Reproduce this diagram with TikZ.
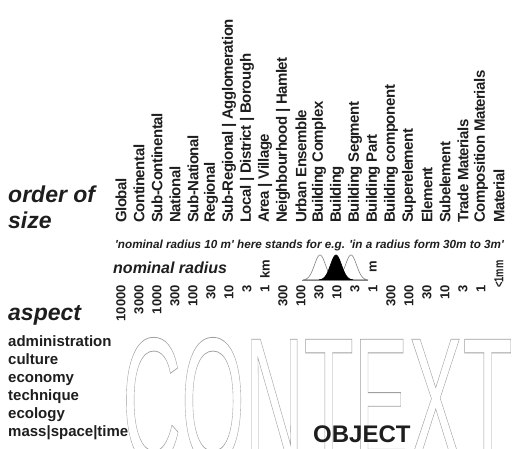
\documentclass[tikz,border=0pt]{standalone}
\usepackage{fontspec}
\setmainfont{Liberation Sans}
\newfontfamily\labfont[LetterSpace=-3]{Liberation Sans}
\newcommand\fsz[1]{\fontsize{#1}{#1}\selectfont}
\definecolor{ink}{HTML}{1E1E1E}
\definecolor{outl}{HTML}{A0A0A0}
\tikzset{
  collab/.style={rotate=90, anchor=west, inner sep=0pt, text=ink, font=\labfont\fsz{15}\bfseries},
  numlab/.style={rotate=90, anchor=east, inner sep=0pt, text=ink, font=\fsz{13}\bfseries},
  unitlab/.style={rotate=90, anchor=west, inner sep=0pt, text=ink, font=\fsz{13}\bfseries},
  bigital/.style={anchor=base west, inner sep=0pt, text=ink, font=\fsz{23}\bfseries\itshape},
  aspectlab/.style={anchor=base west, inner sep=0pt, text=ink, font=\fsz{15}\bfseries},
  bellwhite/.style={draw=gray, line width=0.6pt, fill=white},
  bellblack/.style={draw=black, fill=black, line width=0.6pt},
}
\begin{document}
\begin{tikzpicture}[x=1pt,y=-1pt]
\useasboundingbox (0,0) rectangle (513,448);
\clip (0,0) rectangle (513,448);
% CONTEXT outline letters
\node[anchor=base west, inner sep=0pt, text=outl] (ctx) at (122,463)
  {\special{pdf:literal direct 1 Tr 0.8 w}\scalebox{0.454}[1]{\fsz{180}CONTEXT}\special{pdf:literal direct 0 Tr}};
% column labels
\foreach \t [count=\i from 0] in {Global,Continental,Sub-Continental,National,Sub-National,Regional,Sub-Regional | Agglomeration,Local | District | Borough,Area | Village,Neighbourhood | Hamlet,Urban Ensemble,Building Complex,Building,Building Segment,Building Part,Building component,Superelement,Element,Subelement,Trade Materials,Composition Materials,Material}
  \node[collab] (l\i) at ({121+18*\i},223) {\t};
% numbers
\foreach \t [count=\i from 0] in {10000,3000,1000,300,100,30,10,3,1,300,100,30,10,3,1,300,100,30,10,3,1}
  \node[numlab] (n\i) at ({121+18*\i},285) {\t};
\node[unitlab] (n21) at (499,288) {\scalebox{0.72}[1]{<1mm}};
\node[unitlab] (km) at (265,279) {km};
\node[unitlab] (m) at (373,273) {m};
% explanatory line
\node[anchor=base west, inner sep=0pt, text=ink, font=\fsz{11.7}\bfseries\itshape] (expl) at (115,248)
  {\textquotesingle nominal radius 10 m\textquotesingle{} here stands for e.g. \textquotesingle in a radius form 30m to 3m\textquotesingle};
\node[anchor=base west, inner sep=0pt, text=ink, font=\fsz{16}\bfseries\itshape] (nomr) at (113,273.3) {nominal radius};
% bells
\draw[bellwhite] plot[domain=-17:17, samples=60, smooth] ({320+\x},{280-25*exp(-(\x*\x)/(2*5.5*5.5))}) -- cycle;
\draw[bellwhite] plot[domain=-17:17, samples=60, smooth] ({351+\x},{280-25*exp(-(\x*\x)/(2*5.5*5.5))}) -- cycle;
\draw[bellblack] plot[domain=-17:17, samples=60, smooth] ({336+\x},{280-25*exp(-(\x*\x)/(2*5.5*5.5))}) -- cycle;
\coordinate (b1) at (302,280);
\coordinate (b2) at (368,280);
\draw[gray, line width=0.6pt] (b1) -- (b2);
% left headings
\node[bigital] (ord) at (8,202.7) {order of};
\node[bigital] (size) at (8,228.3) {size};
\node[bigital] (asp) at (8,320) {aspect};
\node[aspectlab] (a1) at (8,346.7) {administration};
\node[aspectlab] (a2) at (8,364.3) {culture};
\node[aspectlab] (a3) at (8,382) {economy};
\node[aspectlab] (a4) at (8,400) {technique};
\node[aspectlab] (a5) at (8,418) {ecology};
\node[aspectlab] (a6) at (8,436) {mass|space|time};
% OBJECT
\node[anchor=base west, inner sep=0pt, text=ink, font=\fsz{24}\bfseries] (obj) at (313,442) {OBJECT};
\end{tikzpicture}
\end{document}
